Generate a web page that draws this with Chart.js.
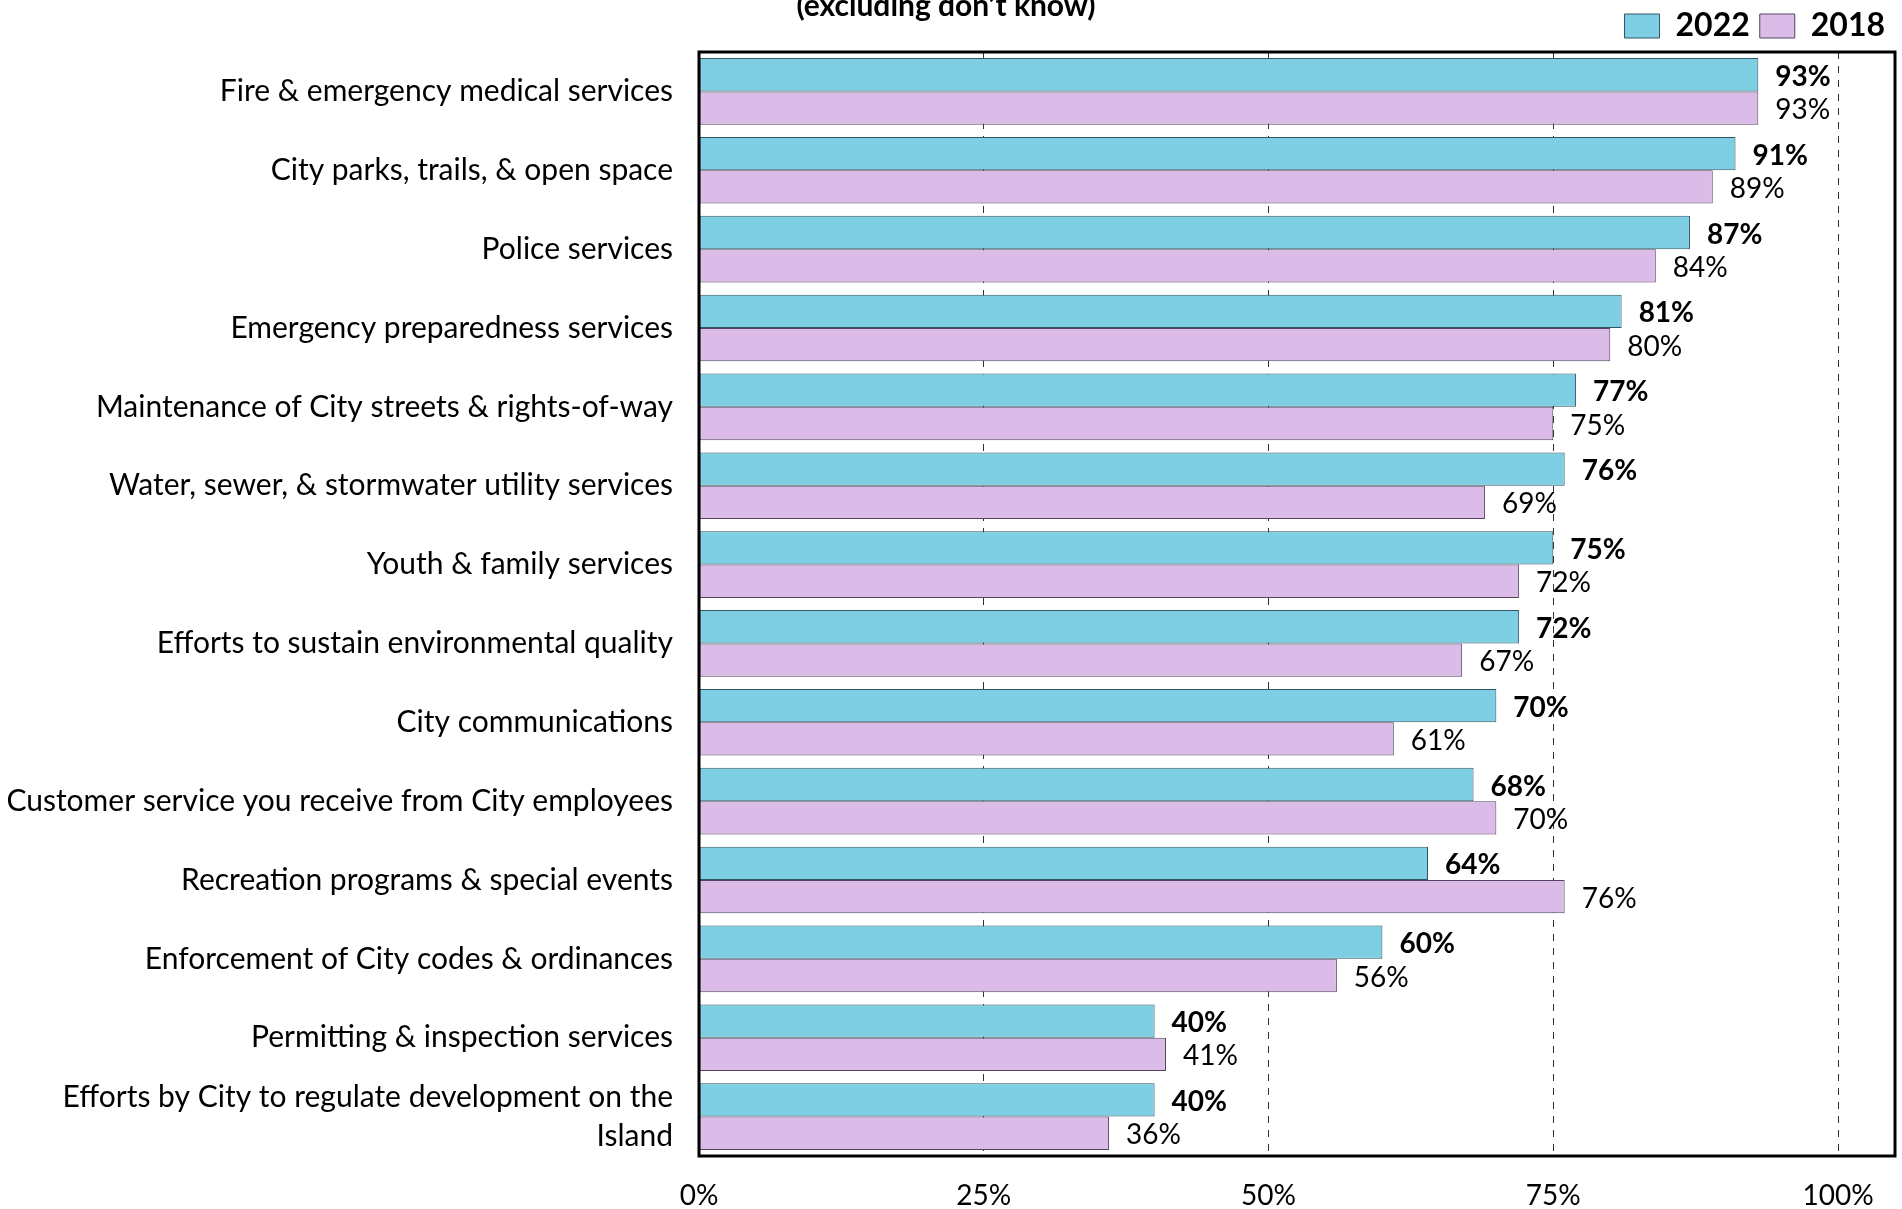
<!DOCTYPE html>
<html><head><meta charset="utf-8">
<script src="https://cdn.jsdelivr.net/npm/chart.js@4/dist/chart.umd.min.js"></script>
<style>html,body{margin:0;padding:0;background:#fff;overflow:hidden}canvas{display:block}</style>
</head><body>
<canvas id="c" width="1902" height="1209"></canvas>
<script>
const titleText = '(excluding don\u2019t know)';
const categories = [
  'Fire & emergency medical services',
  'City parks, trails, & open space',
  'Police services',
  'Emergency preparedness services',
  'Maintenance of City streets & rights-of-way',
  'Water, sewer, & stormwater utility services',
  'Youth & family services',
  'Efforts to sustain environmental quality',
  'City communications',
  'Customer service you receive from City employees',
  'Recreation programs & special events',
  'Enforcement of City codes & ordinances',
  'Permitting & inspection services',
  ['Efforts by City to regulate development on the', 'Island']
];
const seriesNames = ['2022', '2018'];
const values2022 = [93, 91, 87, 81, 77, 76, 75, 72, 70, 68, 64, 60, 40, 40];
const values2018 = [93, 89, 84, 80, 75, 69, 72, 67, 61, 70, 76, 56, 41, 36];
const xTicks = [0, 25, 50, 75, 100];

const FONT = 'Lato, "Open Sans", sans-serif';

const framePlugin = {
  id: 'frame',
  afterDatasetsDraw(chart) {
    const {ctx, chartArea: a} = chart;
    ctx.save();
    ctx.strokeStyle = '#000';
    ctx.lineWidth = 3;
    ctx.strokeRect(a.left, a.top, a.right - a.left, a.bottom - a.top);
    ctx.restore();
  }
};

const labelPlugin = {
  id: 'barLabels',
  afterDatasetsDraw(chart) {
    const {ctx} = chart;
    ctx.save();
    chart.data.datasets.forEach((ds, i) => {
      const meta = chart.getDatasetMeta(i);
      ctx.font = (i === 0 ? 'bold ' : '') + '28px ' + FONT;
      ctx.fillStyle = '#000';
      ctx.textAlign = 'left';
      ctx.textBaseline = 'middle';
      meta.data.forEach((bar, j) => {
        ctx.fillText(ds.data[j] + '%', bar.x + 17, bar.y + 2);
      });
    });
    ctx.restore();
  }
};

const titlePlugin = {
  id: 'topTitle',
  afterDraw(chart) {
    const {ctx} = chart;
    ctx.save();
    ctx.font = 'bold 30px ' + FONT;
    ctx.fillStyle = '#000';
    ctx.textAlign = 'center';
    ctx.textBaseline = 'alphabetic';
    ctx.fillText(titleText, 946, 16);
    ctx.restore();
  }
};

new Chart(document.getElementById('c'), {
  type: 'bar',
  data: {
    labels: categories,
    datasets: [
      {label: seriesNames[0], data: values2022, backgroundColor: '#7ecfe4', borderColor: '#2f5664', borderWidth: 1, borderSkipped: false},
      {label: seriesNames[1], data: values2018, backgroundColor: '#dbbce8', borderColor: '#52445e', borderWidth: 1, borderSkipped: false}
    ]
  },
  options: {
    indexAxis: 'y',
    responsive: false,
    devicePixelRatio: 1,
    animation: false,
    layout: {padding: {left: 0, right: 7, top: 0, bottom: 0}},
    datasets: {bar: {categoryPercentage: 0.845, barPercentage: 1.0}},
    plugins: {
      title: {display: false},
      tooltip: {enabled: false},
      legend: {
        display: true,
        position: 'top',
        align: 'end',
        labels: {
          boxWidth: 35,
          boxHeight: 24,
          padding: 10,
          color: '#000',
          font: {family: FONT, size: 32, weight: 'bold'}
        }
      }
    },
    scales: {
      x: {
        min: 0,
        max: 105,
        afterBuildTicks(scale) { scale.ticks = xTicks.map(v => ({value: v})); },
        afterFit(scale) { scale.height = 53; },
        ticks: {
          callback: v => v + '%',
          color: '#000',
          padding: 26,
          maxRotation: 0,
          font: {family: FONT, size: 28, lineHeight: 1}
        },
        grid: {color: '#333', lineWidth: 1, drawTicks: false},
        border: {display: false, dash: [7, 7]}
      },
      y: {
        afterFit(scale) { scale.width = 699; scale.paddingTop = 0; scale.paddingBottom = 0; },
        ticks: {
          autoSkip: false,
          color: '#000',
          padding: 26,
          font: {family: FONT, size: 30, lineHeight: 1.3}
        },
        grid: {display: false, drawTicks: false},
        border: {display: false}
      }
    }
  },
  plugins: [framePlugin, labelPlugin, titlePlugin]
});
</script>
</body></html>
